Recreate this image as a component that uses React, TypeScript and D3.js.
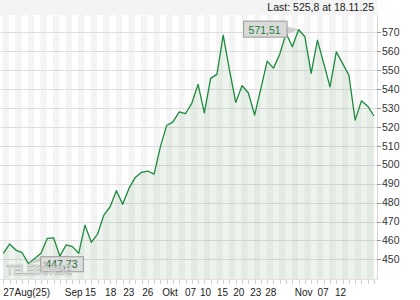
import * as d3 from "d3";

// closing prices, one per trading day (27 Aug 2025 .. 18 Nov 2025)
const closes = [
    453.2, 458.1, 454.9, 453.5, 447.73, 450.5, 453.2, 461.1, 461.4, 451.7,
    457.6, 456.7, 453.2, 468.1, 459.0, 463.3, 473.4, 477.8, 486.3, 479.1,
    487.5, 493.3, 496.0, 496.7, 495.1, 509.5, 520.8, 522.7, 528.0, 527.0,
    532.5, 542.5, 527.5, 545.7, 547.8, 568.6, 550.1, 533.0, 541.8, 538.1,
    526.3, 540.4, 554.8, 551.1, 558.5, 569.5, 562.4, 571.51, 567.7, 548.3,
    565.9, 553.6, 541.2, 559.7, 553.6, 547.4, 523.6, 533.8, 531.0, 525.8
];

// date labels and the trading-day slot each one starts at
const xLabels = ["27", "Aug(25)", "Sep", "15", "18", "23", "26", "Okt", "07", "10", "15", "20", "23", "28", "Nov", "07", "12"];
const xLabelSlots = [0, 1.78, 9.8, 13, 16.2, 19.1, 22.1, 25.3, 28.9, 31.3, 34, 36.6, 39.3, 41.7, 46.4, 50, 52.8];

const yTicks = [450, 460, 470, 480, 490, 500, 510, 520, 530, 540, 550, 560, 570];

const lastText = "Last: 525,8 at 18.11.25";

const W = 420, H = 300;
const plot = {left: 0, right: 377, top: 15, bottom: 279};
const font = "'Liberation Sans', Arial, sans-serif";

const comma = (v: number) => d3.format(".2f")(v).replace(".", ",");

export default function App() {
    const x = d3.scaleLinear().domain([0, closes.length - 1]).range([3.3, 374]);
    const y = d3.scaleLinear().domain([439.6, 579.2]).range([plot.bottom, plot.top]);
    const step = x(1) - x(0);

    const line = d3.line<number>().x((_, i) => x(i)).y(d => y(d));
    const area = d3.area<number>().x((_, i) => x(i)).y0(plot.bottom).y1(d => y(d));

    const hiIdx = d3.maxIndex(closes);
    const loIdx = d3.minIndex(closes);
    const hx = x(hiIdx), hy = y(closes[hiIdx]);
    const lx = x(loIdx), ly = y(closes[loIdx]);

    const stripes = d3.range(0, closes.length, 2);

    return (
        <svg width={W} height={H} style={{position: "fixed", left: 0, top: 0, background: "#fff"}}
             fontFamily={font}>
            <rect x={0} y={0} width={plot.right} height={plot.top} fill="#f4f4f4"/>
            {stripes.map(i => (
                <rect key={i} x={x(i) - 0.6} y={plot.top}
                      width={Math.min(step, plot.right - (x(i) - 0.6))}
                      height={plot.bottom - plot.top} fill="#f4f4f4"/>
            ))}
            {yTicks.map(t => (
                <line key={t} x1={plot.left} x2={plot.right} y1={Math.round(y(t)) + 0.5} y2={Math.round(y(t)) + 0.5}
                      stroke="#dedede"/>
            ))}
            <path d={area(closes) ?? ""} fill="rgb(60,130,60)" fillOpacity={0.09}/>
            <path d={line(closes) ?? ""} fill="none" stroke="#1b8a3c" strokeWidth={1.3} strokeLinejoin="round"/>

            {/* axes */}
            <line x1={plot.right + 0.5} x2={plot.right + 0.5} y1={plot.top} y2={plot.bottom + 1} stroke="#d6d6d6"/>
            <line x1={plot.left} x2={plot.right} y1={plot.bottom + 0.5} y2={plot.bottom + 0.5} stroke="#e2e2e2"/>
            {yTicks.map(t => (
                <g key={t}>
                    <line x1={plot.right} x2={plot.right + 4} y1={Math.round(y(t)) + 0.5} y2={Math.round(y(t)) + 0.5}
                          stroke="#999"/>
                    <text x={plot.right + 5} y={y(t)} dy="0.35em" fontSize={10.5} fill="#333">{t}</text>
                </g>
            ))}
            {closes.map((_, i) => (
                <line key={i} x1={Math.round(x(i)) + 0.5} x2={Math.round(x(i)) + 0.5} y1={plot.bottom + 1}
                      y2={plot.bottom + 5} stroke="#d0d0d0"/>
            ))}
            {xLabels.map((l, i) => (
                <text key={i} x={x(xLabelSlots[i])} y={295.5} fontSize={10} fill="#222">{l}</text>
            ))}

            <text x={plot.right - 3} y={10.5} textAnchor="end" fontSize={10.5} fill="#222">{lastText}</text>

            {/* high callout */}
            <path d={`M${hx - 11.6},${hy - 3} L${hx},${hy} L${hx - 11.6},${hy + 5} Z`} fill="#d0d0d0"/>
            <rect x={hx - 55} y={hy - 8.4} width={43.4} height={16} fill="#dadada" stroke="#9a9a9a"/>
            <text x={hx - 50} y={hy + 4} fontSize={10.5} fill="#1f7a3a">{comma(closes[hiIdx])}</text>

            {/* low callout */}
            <path d={`M${lx + 12.3},${ly - 6.9} L${lx},${ly} L${lx + 12.3},${ly - 2} Z`} fill="#cfcfcf"/>
            <rect x={lx + 12.3} y={ly - 6.9} width={42.6} height={15} fill="#dadada" fillOpacity={0.85}
                  stroke="#9a9a9a"/>
            <text x={lx + 17} y={ly + 4} fontSize={10.5} fill="#1f6a36">{comma(closes[loIdx])}</text>

            {/* watermark */}
            <text x={6.7} y={275} fontSize={15} fontWeight="bold" fill="#f2f2f2" fillOpacity={0.6} stroke="#ababab"
                  strokeWidth={0.7} textLength={65} lengthAdjust="spacingAndGlyphs">TELEBÖRSE</text>
        </svg>
    );
}
